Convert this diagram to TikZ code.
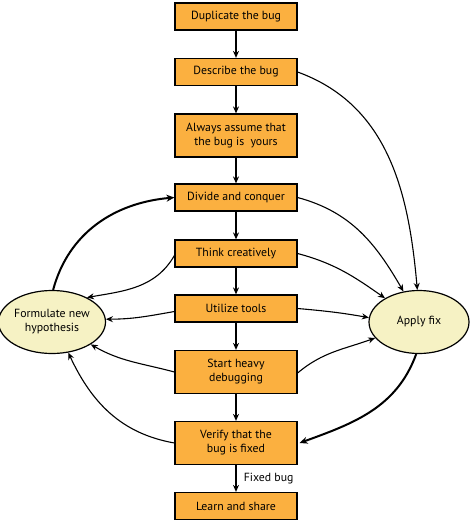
\documentclass[tikz,border=0pt]{standalone}
\usepackage{fontspec}
\setmainfont{PT Sans}
\usetikzlibrary{shapes.geometric,arrows.meta}
\definecolor{boxfill}{HTML}{FBB040}
\definecolor{ellfill}{HTML}{F6F2C4}
\begin{document}
\begin{tikzpicture}[x=1pt,y=1pt,
  box/.style={draw=black,line width=1.2pt,fill=boxfill,minimum width=122pt,minimum height=27pt,align=center,font=\fontsize{11.8}{14}\selectfont,inner sep=2pt},
  tall/.style={box,minimum height=43pt},
  ell/.style={ellipse,draw=black,line width=1.2pt,fill=ellfill,minimum width=100pt,minimum height=63pt,align=center,font=\fontsize{11.8}{14}\selectfont,inner sep=0pt},
  arr/.style={-{Stealth[length=7pt,width=6pt]},line width=1.1pt},
  tharr/.style={-{Stealth[length=8pt,width=7pt]},line width=2pt}]
\useasboundingbox (0,0) rectangle (472,-522);
\node[box] (b1) at (236,-16.5) {Duplicate the bug};
\node[box] (b2) at (236,-72) {Describe the bug};
\node[tall] (b3) at (236,-135.5) {Always assume that\\ the bug is\ \ yours};
\node[box] (b4) at (236,-197.5) {Divide and conquer};
\node[box] (b5) at (236,-253.5) {Think\ creatively};
\node[box] (b6) at (236,-308.5) {Utilize\ tools};
\node[tall] (b7) at (236,-372) {Start heavy\\ debugging};
\node[tall] (b8) at (236,-443) {Verify that the\\ bug is fixed};
\node[box] (b9) at (236,-506) {Learn and share};
\node[ell] (form) at (52,-322) {Formulate new\\ hypothesis};
\node[ell] (fix) at (419,-322) {Apply fix};
\draw[arr] (b1) -- (b2);
\draw[arr] (b2) -- (b3);
\draw[arr] (b3) -- (b4);
\draw[arr] (b4) -- (b5);
\draw[arr] (b5) -- (b6);
\draw[arr] (b6) -- (b7);
\draw[arr] (b7) -- (b8);
\draw[arr] (b8) -- node[right,font=\fontsize{11.8}{14}\selectfont,xshift=4pt] {Fixed bug} (b9);
\draw[arr] (b2.east) to[out=-20,in=95] (fix.93);
\draw[arr] (b4.east) to[out=-15,in=120] (fix.117);
\draw[arr] (b5.east) to[out=-15,in=145] (fix.145);
\draw[arr] (b6.east) to[out=-5,in=170] (fix.175);
\draw[arr] ([yshift=-1pt]b7.east) to[out=40,in=200] (fix.200);
\draw[tharr] (fix.265) to[out=-110,in=20] ([xshift=2pt]b8.east);
\draw[tharr] (form.88) to[out=75,in=185] (b4.west);
\draw[arr] ([yshift=-2pt]b5.west) to[out=-120,in=10] (form.35);
\draw[arr] ([yshift=-3pt]b6.west) to[out=190,in=0] (form.3);
\draw[arr] (b7.west) to[out=165,in=-30] (form.-30);
\draw[arr] (b8.west) to[out=170,in=-65] (form.-62);
\end{tikzpicture}
\end{document}
